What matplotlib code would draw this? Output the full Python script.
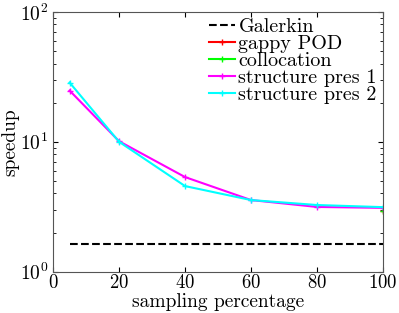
import numpy as np
import matplotlib
matplotlib.use('Agg')
import matplotlib.pyplot as plt

plt.rcParams['font.family'] = 'cmr10'
plt.rcParams['mathtext.fontset'] = 'cm'
plt.rcParams['axes.formatter.use_mathtext'] = True

# sampling percentages
pct = [5, 20, 40, 60, 80, 100]
galerkin = [1.64, 1.64, 1.64, 1.64, 1.64, 1.64]
gappy_pct = [100]
gappy = [2.93]
colloc_pct = [100]
colloc = [2.93]
struct1 = [24.8, 10.1, 5.35, 3.56, 3.15, 3.1]
struct2 = [28.6, 10.0, 4.56, 3.56, 3.26, 3.14]

fig = plt.figure(figsize=(3.99, 3.13), dpi=100)
ax = fig.add_axes([0.133, 0.132, 0.827, 0.830])

ax.plot(pct, galerkin, 'k--', linewidth=1.5, label='Galerkin')
ax.plot(gappy_pct, gappy, color='red', marker='+', markersize=5, linewidth=1.5, label='gappy POD')
ax.plot(colloc_pct, colloc, color='#00ff00', marker='+', markersize=5, linewidth=1.5, label='collocation')
ax.plot(pct, struct1, color='magenta', marker='+', markersize=5, linewidth=1.5, label='structure pres 1')
ax.plot(pct, struct2, color='cyan', marker='+', markersize=5, linewidth=1.5, label='structure pres 2')

ax.set_yscale('log')
ax.set_xlim(0, 100)
ax.set_ylim(1, 100)
ax.set_xticks([0, 20, 40, 60, 80, 100])
ax.tick_params(which='both', direction='in', top=True, right=True)
ax.tick_params(axis='x', labelsize=13.5, pad=2)
ax.tick_params(axis='y', labelsize=14)
for s in ax.spines.values():
    s.set_color('#555555')
ax.set_xlabel('sampling percentage', fontsize=14, labelpad=0.5)
ax.set_ylabel('speedup', fontsize=14, labelpad=0)

ax.legend(loc='upper right', frameon=False, fontsize=14.5, handlelength=1.3,
          labelspacing=-0.05, handletextpad=0.15, borderaxespad=0.1, borderpad=0.2)

fig.savefig('out.png', dpi=100)
